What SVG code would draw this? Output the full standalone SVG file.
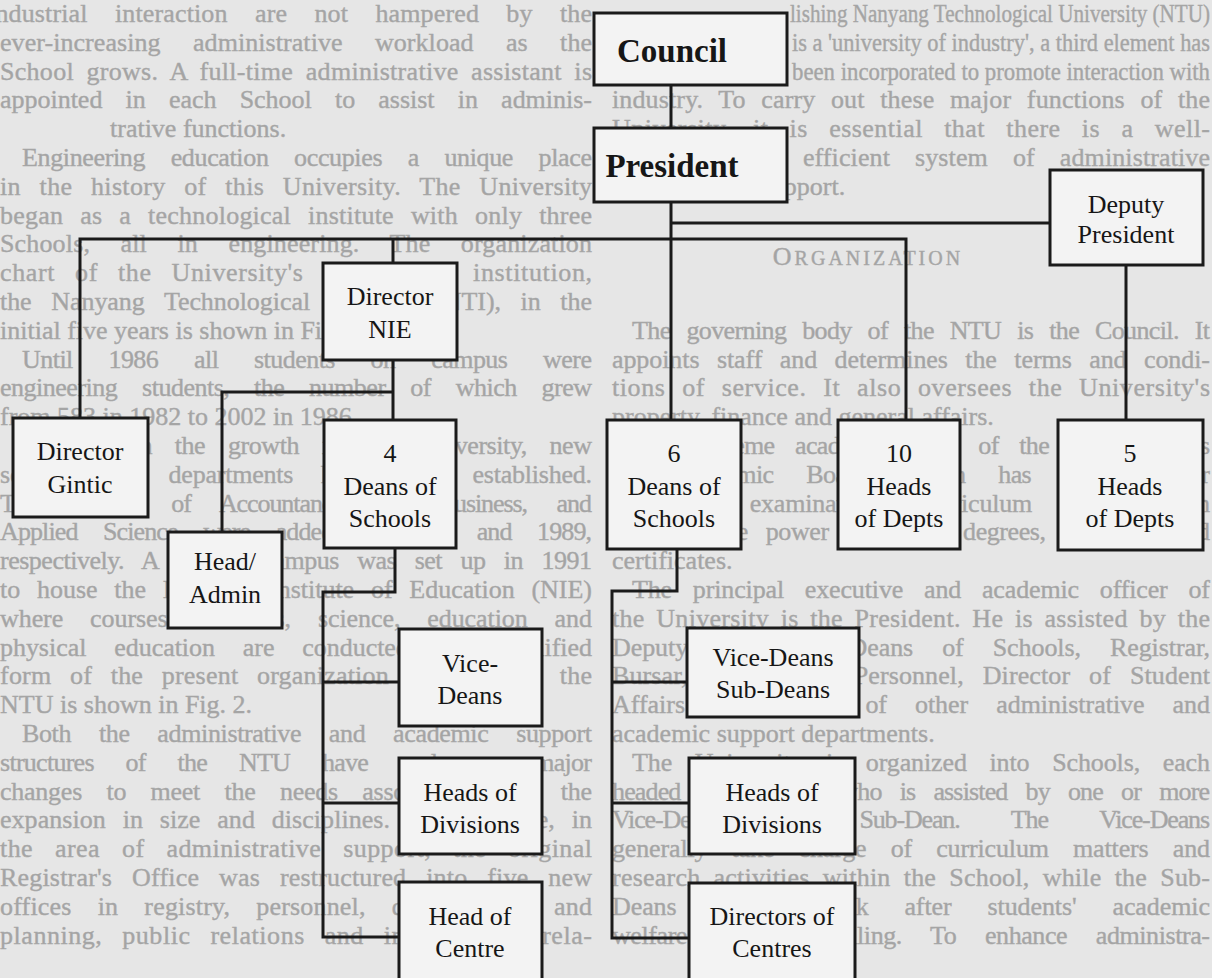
<svg xmlns="http://www.w3.org/2000/svg" width="1212" height="978" viewBox="0 0 1212 978">
<style>
.bg{font-family:"Liberation Serif","Times New Roman",serif;font-size:26px;fill:#a4a4a4;stroke:#a8a8a8;stroke-width:0.4}
.sq{font-size:25px}
.t{font-family:"Liberation Serif","Times New Roman",serif;font-size:26px;fill:#161616;text-anchor:middle}
.tb{font-family:"Liberation Serif","Times New Roman",serif;font-size:33px;font-weight:bold;fill:#161616;text-anchor:middle}
.box{fill:#f3f3f3;stroke:#1a1a1a;stroke-width:3}
.con{fill:none;stroke:#1a1a1a;stroke-width:3}
</style>
<rect x="0" y="0" width="1212" height="978" fill="#e6e6e6"/>
<g id="page-text">
<text class="bg" x="-12" y="22" style="word-spacing:20.7px" textLength="604" lengthAdjust="spacing">industrial interaction are not hampered by the</text>
<text class="bg" x="0" y="50.8" style="word-spacing:25.8px" textLength="592" lengthAdjust="spacing">ever-increasing administrative workload as the</text>
<text class="bg" x="0" y="79.6" style="word-spacing:5.8px" textLength="592" lengthAdjust="spacing">School grows. A full-time administrative assistant is</text>
<text class="bg" x="0" y="108.4" style="word-spacing:16.7px" textLength="592" lengthAdjust="spacing">appointed in each School to assist in adminis-</text>
<text class="bg" x="110" y="137.2">trative functions.</text>
<text class="bg" x="22" y="166" style="word-spacing:19.4px" textLength="570" lengthAdjust="spacing">Engineering education occupies a unique place</text>
<text class="bg" x="0" y="194.8" style="word-spacing:11.9px" textLength="592" lengthAdjust="spacing">in the history of this University. The University</text>
<text class="bg" x="0" y="223.6" style="word-spacing:10.3px" textLength="592" lengthAdjust="spacing">began as a technological institute with only three</text>
<text class="bg" x="0" y="252.4" style="word-spacing:23.8px" textLength="592" lengthAdjust="spacing">Schools, all in engineering. The organization</text>
<text class="bg" x="0" y="281.2" style="word-spacing:12.8px" textLength="592" lengthAdjust="spacing">chart of the University's predecessor institution,</text>
<text class="bg" x="0" y="310" style="word-spacing:13.2px" textLength="592" lengthAdjust="spacing">the Nanyang Technological Institute (NTI), in the</text>
<text class="bg" x="0" y="338.8">initial five years is shown in Fig. 1.</text>
<text class="bg" x="22" y="367.6" style="word-spacing:29.7px" textLength="570" lengthAdjust="spacing">Until 1986 all students on campus were</text>
<text class="bg" x="0" y="396.4" style="word-spacing:18.7px" textLength="592" lengthAdjust="spacing">engineering students, the number of which grew</text>
<text class="bg" x="0" y="425.2">from 583 in 1982 to 2002 in 1986.</text>
<text class="bg" x="22" y="454" style="word-spacing:16.7px" textLength="570" lengthAdjust="spacing">Along with the growth in the University, new</text>
<text class="bg" x="0" y="482.8" style="word-spacing:21.4px" textLength="592" lengthAdjust="spacing">schools and departments have been established.</text>
<text class="bg" x="0" y="511.6" style="word-spacing:24.2px" textLength="592" lengthAdjust="spacing">The Schools of Accountancy and Business, and</text>
<text class="bg" x="0" y="540.4" style="word-spacing:19.9px" textLength="592" lengthAdjust="spacing">Applied Science were added in 1987 and 1989,</text>
<text class="bg" x="0" y="569.2" style="word-spacing:12.4px" textLength="592" lengthAdjust="spacing">respectively. A branch campus was set up in 1991</text>
<text class="bg" x="0" y="598" style="word-spacing:10.3px" textLength="592" lengthAdjust="spacing">to house the National Institute of Education (NIE)</text>
<text class="bg" x="0" y="626.8" style="word-spacing:20.5px" textLength="592" lengthAdjust="spacing">where courses on arts, science, education and</text>
<text class="bg" x="0" y="655.6" style="word-spacing:21.4px" textLength="592" lengthAdjust="spacing">physical education are conducted. A simplified</text>
<text class="bg" x="0" y="684.4" style="word-spacing:11.9px" textLength="592" lengthAdjust="spacing">form of the present organization structure of the</text>
<text class="bg" x="0" y="713.2">NTU is shown in Fig. 2.</text>
<text class="bg" x="22" y="742" style="word-spacing:21.6px" textLength="570" lengthAdjust="spacing">Both the administrative and academic support</text>
<text class="bg" x="0" y="770.8" style="word-spacing:26px" textLength="592" lengthAdjust="spacing">structures of the NTU have undergone major</text>
<text class="bg" x="0" y="799.6" style="word-spacing:18.1px" textLength="592" lengthAdjust="spacing">changes to meet the needs associated with the</text>
<text class="bg" x="0" y="828.4" style="word-spacing:10.3px" textLength="592" lengthAdjust="spacing">expansion in size and disciplines. For example, in</text>
<text class="bg" x="0" y="857.2" style="word-spacing:15px" textLength="592" lengthAdjust="spacing">the area of administrative support, the original</text>
<text class="bg" x="0" y="886" style="word-spacing:13.2px" textLength="592" lengthAdjust="spacing">Registrar's Office was restructured into five new</text>
<text class="bg" x="0" y="914.8" style="word-spacing:19.4px" textLength="592" lengthAdjust="spacing">offices in registry, personnel, development and</text>
<text class="bg" x="0" y="943.6" style="word-spacing:12.8px" textLength="592" lengthAdjust="spacing">planning, public relations and international rela-</text>

<text class="bg sq" x="790" y="22" textLength="420" lengthAdjust="spacingAndGlyphs">lishing Nanyang Technological University (NTU)</text>
<text class="bg sq" x="792" y="50.8" textLength="418" lengthAdjust="spacingAndGlyphs">is a 'university of industry', a third element has</text>
<text class="bg sq" x="792" y="79.6" textLength="418" lengthAdjust="spacingAndGlyphs">been incorporated to promote interaction with</text>
<text class="bg" x="612" y="108.4" style="word-spacing:9px" textLength="598" lengthAdjust="spacing">industry. To carry out these major functions of the</text>
<text class="bg" x="612" y="137.2" style="word-spacing:14.3px" textLength="598" lengthAdjust="spacing">University, it is essential that there is a well-</text>
<text class="bg" x="612" y="166" style="word-spacing:18.4px" textLength="598" lengthAdjust="spacing">organized and efficient system of administrative</text>
<text class="bg" x="612" y="194.8">and academic support.</text>
<text class="bg" x="868" y="265" text-anchor="middle" letter-spacing="3" font-size="26">O<tspan font-size="20">RGANIZATION</tspan></text>
<text class="bg" x="632" y="338.8" style="word-spacing:10px" textLength="578" lengthAdjust="spacing">The governing body of the NTU is the Council. It</text>
<text class="bg" x="612" y="367.6" style="word-spacing:11.1px" textLength="598" lengthAdjust="spacing">appoints staff and determines the terms and condi-</text>
<text class="bg" x="612" y="396.4" style="word-spacing:9.7px" textLength="598" lengthAdjust="spacing">tions of service. It also oversees the University's</text>
<text class="bg" x="612" y="425.2">property, finance and general affairs.</text>
<text class="bg" x="632" y="454" style="word-spacing:14.7px" textLength="578" lengthAdjust="spacing">The supreme academic body of the University is</text>
<text class="bg" x="612" y="482.8" style="word-spacing:27px" textLength="598" lengthAdjust="spacing">the Academic Board, which has control over</text>
<text class="bg" x="612" y="511.6" style="word-spacing:21.8px" textLength="598" lengthAdjust="spacing">admission, examinations, curriculum and research</text>
<text class="bg" x="612" y="540.4" style="word-spacing:11.8px" textLength="598" lengthAdjust="spacing">and has the power to award degrees, diplomas and</text>
<text class="bg" x="612" y="569.2">certificates.</text>
<text class="bg" x="632" y="598" style="word-spacing:14.5px" textLength="578" lengthAdjust="spacing">The principal executive and academic officer of</text>
<text class="bg" x="612" y="626.8" style="word-spacing:4.9px" textLength="598" lengthAdjust="spacing">the University is the President. He is assisted by the</text>
<text class="bg" x="612" y="655.6" style="word-spacing:22.6px" textLength="598" lengthAdjust="spacing">Deputy President, Deans of Schools, Registrar,</text>
<text class="bg" x="612" y="684.4" style="word-spacing:12.3px" textLength="598" lengthAdjust="spacing">Bursar, Director of Personnel, Director of Student</text>
<text class="bg" x="612" y="713.2" style="word-spacing:21.5px" textLength="598" lengthAdjust="spacing">Affairs and heads of other administrative and</text>
<text class="bg" x="612" y="742">academic support departments.</text>
<text class="bg" x="632" y="770.8" style="word-spacing:16.3px" textLength="578" lengthAdjust="spacing">The University is organized into Schools, each</text>
<text class="bg" x="612" y="799.6" style="word-spacing:12.5px" textLength="598" lengthAdjust="spacing">headed by a Dean who is assisted by one or more</text>
<text class="bg" x="612" y="828.4" style="word-spacing:46.5px" textLength="598" lengthAdjust="spacing">Vice-Deans and Sub-Dean. The Vice-Deans</text>
<text class="bg" x="612" y="857.2" style="word-spacing:17.8px" textLength="598" lengthAdjust="spacing">generally take charge of curriculum matters and</text>
<text class="bg" x="612" y="886" style="word-spacing:6.4px" textLength="598" lengthAdjust="spacing">research activities within the School, while the Sub-</text>
<text class="bg" x="612" y="914.8" style="word-spacing:29.4px" textLength="598" lengthAdjust="spacing">Deans usually look after students' academic</text>
<text class="bg" x="612" y="943.6" style="word-spacing:22.6px" textLength="598" lengthAdjust="spacing">welfare and counselling. To enhance administra-</text>
</g>

<g id="connectors" class="con">
<path d="M671 85V128"/>
<path d="M671 202V420"/>
<path d="M671 223H1050"/>
<path d="M80 418V239H906V420"/>
<path d="M393 239V263"/>
<path d="M393 360V420"/>
<path d="M393 392H222V532"/>
<path d="M395 548V592H323V937H399"/>
<path d="M323 682H399"/>
<path d="M323 803H399"/>
<path d="M1126 265V420"/>
<path d="M677 549V591H612V938H689"/>
<path d="M612 682H687"/>
<path d="M612 803H689"/>
</g>

<g id="council"><rect class="box" x="594" y="13" width="193" height="72"/><text class="tb" x="672" y="62">Council</text></g>
<g id="president"><rect class="box" x="594" y="128" width="193" height="74"/><text class="tb" x="672" y="177">President</text></g>
<g id="deputy-president"><rect class="box" x="1050" y="170" width="153" height="95"/><text class="t" x="1126" y="213">Deputy</text><text class="t" x="1126" y="243">President</text></g>
<g id="director-gintic"><rect class="box" x="13" y="418" width="135" height="99"/><text class="t" x="80" y="460">Director</text><text class="t" x="80" y="493">Gintic</text></g>
<g id="director-nie"><rect class="box" x="323" y="263" width="134" height="97"/><text class="t" x="390" y="305">Director</text><text class="t" x="390" y="338">NIE</text></g>
<g id="deans-4"><rect class="box" x="324" y="420" width="132" height="128"/><text class="t" x="390" y="462">4</text><text class="t" x="390" y="495">Deans of</text><text class="t" x="390" y="527">Schools</text></g>
<g id="head-admin"><rect class="box" x="168" y="532" width="114" height="96"/><text class="t" x="225" y="570">Head/</text><text class="t" x="225" y="603">Admin</text></g>
<g id="vice-deans-l"><rect class="box" x="399" y="629" width="143" height="97"/><text class="t" x="470" y="672">Vice-</text><text class="t" x="470" y="704">Deans</text></g>
<g id="heads-div-l"><rect class="box" x="399" y="758" width="143" height="96"/><text class="t" x="470" y="801">Heads of</text><text class="t" x="470" y="833">Divisions</text></g>
<g id="head-centre"><rect class="box" x="399" y="882" width="143" height="110"/><text class="t" x="470" y="925">Head of</text><text class="t" x="470" y="957">Centre</text></g>
<g id="deans-6"><rect class="box" x="607" y="420" width="134" height="129"/><text class="t" x="674" y="462">6</text><text class="t" x="674" y="495">Deans of</text><text class="t" x="674" y="527">Schools</text></g>
<g id="heads-10"><rect class="box" x="838" y="420" width="122" height="129"/><text class="t" x="899" y="462">10</text><text class="t" x="899" y="495">Heads</text><text class="t" x="899" y="527">of Depts</text></g>
<g id="heads-5"><rect class="box" x="1058" y="420" width="145" height="130"/><text class="t" x="1130" y="462">5</text><text class="t" x="1130" y="495">Heads</text><text class="t" x="1130" y="527">of Depts</text></g>
<g id="vice-sub-deans"><rect class="box" x="687" y="628" width="172" height="89"/><text class="t" x="773" y="666">Vice-Deans</text><text class="t" x="773" y="698">Sub-Deans</text></g>
<g id="heads-div-r"><rect class="box" x="689" y="758" width="166" height="96"/><text class="t" x="772" y="801">Heads of</text><text class="t" x="772" y="833">Divisions</text></g>
<g id="directors-centres"><rect class="box" x="689" y="883" width="166" height="110"/><text class="t" x="772" y="925">Directors of</text><text class="t" x="772" y="957">Centres</text></g>
</svg>
